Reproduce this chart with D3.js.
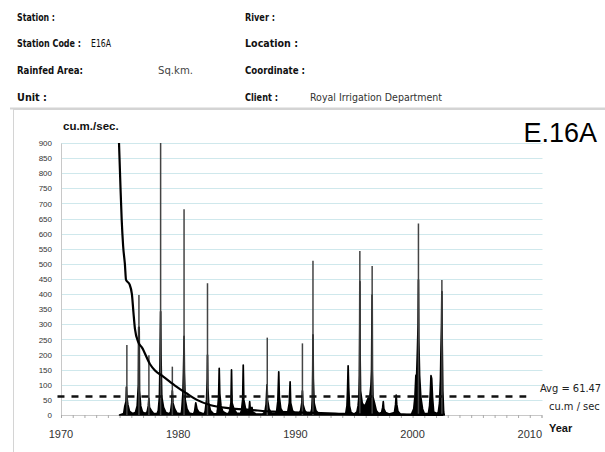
<!DOCTYPE html>
<html><head><meta charset="utf-8">
<script src="https://cdn.jsdelivr.net/npm/d3@7"></script>
<style>html,body{margin:0;padding:0;background:#fff;} svg{display:block;}</style>
</head><body><svg id="c" width="605" height="452"></svg>
<script>
// ---- header texts ----
const headerLeftLabels = ["Station :", "Station Code :", "Rainfed Area:", "Unit :"];
const headerLeftValues = ["", "E16A", "Sq.km.", ""];
const headerRightLabels = ["River :", "Location :", "Coordinate :", "Client :"];
const headerRightValues = ["", "", "", "Royal Irrigation Department"];
const stationId = "E.16A";
const yUnit = "cu.m./sec.";
const xUnit = "Year";

// ---- axes ----
const yTicks = [0,50,100,150,200,250,300,350,400,450,500,550,600,650,700,750,800,850,900];
const xTicks = [1970,1980,1990,2000,2010];
const avgFlow = 61.47;

// ---- flow duration curve (year position, cu.m./sec.) ----
const durationCurve = [
 [1974.95,900],[1975.07,760],[1975.18,645],[1975.3,560],[1975.45,500],[1975.55,447],
 [1975.85,432],[1976.05,400],[1976.18,340],[1976.31,285],[1976.6,240],[1976.9,224],
 [1977.6,168],[1978.0,148],[1978.7,128],[1979.85,94],[1980.7,72],
 [1981.6,50],[1982.7,33],[1984.4,22],[1986.1,17],[1988.1,11],
 [1990.8,8],[1993.4,5],[1995.3,2],[1998.0,1],[2002.6,0.3]
];

// ---- peak spikes (thin grey) ----
const spikeYears = [1975.62,1976.65,1977.5,1978.5,1979.5,1980.5,1982.5,1987.6,1990.6,1991.5,1995.5,1996.55,2000.5,2002.5];
const spikePeaks = [232,397,198,900,160,681,436,256,237,510,543,493,634,447];

// ---- discharge hydrograph (black) ----
const flow = [
 [1975.00,0],[1975.35,5],[1975.45,30],[1975.55,45],[1975.58,92],[1975.62,60],[1975.7,35],[1975.85,12],[1976.1,5],
 [1976.35,8],[1976.5,30],[1976.6,100],[1976.63,290],[1976.67,290],[1976.7,80],[1976.8,30],[1976.95,10],[1977.2,5],
 [1977.35,10],[1977.45,30],[1977.5,55],[1977.55,25],[1977.7,15],[1977.9,5],[1978.2,5],
 [1978.3,15],[1978.4,60],[1978.45,176],[1978.48,280],[1978.5,342],[1978.53,200],[1978.6,60],[1978.75,25],[1978.95,8],[1979.25,4],
 [1979.35,10],[1979.45,40],[1979.5,80],[1979.55,40],[1979.7,20],[1979.9,6],[1980.25,4],
 [1980.3,15],[1980.4,70],[1980.45,140],[1980.48,200],[1980.5,260],[1980.53,140],[1980.6,50],[1980.75,20],[1980.95,6],[1981.3,3],
 [1981.4,12],[1981.5,40],[1981.6,20],[1981.75,10],[1982.2,3],
 [1982.3,12],[1982.42,50],[1982.48,120],[1982.5,198],[1982.53,90],[1982.6,40],[1982.75,15],[1983.0,5],[1983.3,4],
 [1983.35,15],[1983.45,60],[1983.5,154],[1983.55,70],[1983.65,30],[1983.8,12],[1984.1,5],[1984.3,5],
 [1984.4,15],[1984.5,40],[1984.55,149],[1984.6,40],[1984.75,20],[1985.0,6],[1985.3,5],
 [1985.4,15],[1985.5,50],[1985.55,165],[1985.6,50],[1985.75,20],[1985.95,8],
 [1986.05,20],[1986.1,44],[1986.15,20],[1986.3,25],[1986.35,10],[1986.6,4],[1987.2,3],
 [1987.4,10],[1987.5,35],[1987.58,100],[1987.62,50],[1987.75,20],[1987.95,6],[1988.3,4],
 [1988.4,12],[1988.5,45],[1988.58,143],[1988.63,60],[1988.75,22],[1988.95,8],[1989.3,4],
 [1989.35,10],[1989.48,40],[1989.55,110],[1989.6,40],[1989.75,15],[1990.0,5],[1990.3,4],
 [1990.45,15],[1990.55,40],[1990.6,80],[1990.65,35],[1990.8,15],[1991.0,5],[1991.3,5],
 [1991.4,20],[1991.45,60],[1991.48,150],[1991.5,265],[1991.53,120],[1991.6,40],[1991.75,15],[1992.0,4],[1992.3,2],
 [1993.0,1],[1994.0,1],
 [1994.3,5],[1994.4,30],[1994.45,80],[1994.5,163],[1994.55,90],[1994.62,30],[1994.75,8],[1995.0,3],
 [1995.25,10],[1995.35,30],[1995.42,60],[1995.46,132],[1995.49,300],[1995.5,441],[1995.52,200],[1995.56,80],[1995.7,40],[1995.85,30],
 [1996.0,35],[1996.2,55],[1996.35,60],[1996.45,100],[1996.5,149],[1996.53,300],[1996.55,397],[1996.57,150],[1996.62,60],[1996.75,40],[1996.9,15],[1997.1,5],
 [1997.35,8],[1997.45,25],[1997.5,44],[1997.55,20],[1997.7,8],[1998.0,3],
 [1998.45,8],[1998.55,35],[1998.6,66],[1998.65,35],[1998.75,12],[1998.95,3],[1999.5,1],[1999.9,2],
 [2000.1,20],[2000.2,60],[2000.28,130],[2000.35,135],[2000.42,222],[2000.47,300],[2000.5,447],[2000.53,250],[2000.6,130],[2000.7,60],[2000.85,20],[2001.0,5],[2001.35,5],
 [2001.45,30],[2001.52,80],[2001.57,130],[2001.63,120],[2001.7,60],[2001.8,10],[2002.1,5],
 [2002.2,10],[2002.3,40],[2002.38,120],[2002.43,230],[2002.47,300],[2002.5,408],[2002.53,230],[2002.58,80],[2002.65,10],[2002.7,0]
];

const svg = d3.select("#c");
svg.append("rect").attr("width",605).attr("height",452).attr("fill","#fff");

// header (label widths fitted to the reference)
const hFont = "'Liberation Sans Narrow','DejaVu Sans Condensed','Liberation Sans',Arial,sans-serif";
const rowY = [21, 47, 74, 101];
const leftW = [38, 64, 66, 30];
const rightW = [30, 53, 60, 33];
const hdr = svg.append("g").attr("font-family", hFont).attr("font-size", 10.5).attr("fill","#111");
headerLeftLabels.forEach((t,i)=>{
  hdr.append("text").attr("x",17).attr("y",rowY[i]).attr("font-weight","bold")
    .attr("textLength",leftW[i]).attr("lengthAdjust","spacingAndGlyphs").text(t);
});
hdr.append("text").attr("x",91).attr("y",rowY[1]).attr("textLength",20).attr("lengthAdjust","spacingAndGlyphs").text(headerLeftValues[1]);
hdr.append("text").attr("x",158).attr("y",rowY[2]).attr("fill","#444").attr("textLength",35).attr("lengthAdjust","spacingAndGlyphs").text(headerLeftValues[2]);
headerRightLabels.forEach((t,i)=>{
  hdr.append("text").attr("x",245).attr("y",rowY[i]).attr("font-weight","bold")
    .attr("textLength",rightW[i]).attr("lengthAdjust","spacingAndGlyphs").text(t);
});
hdr.append("text").attr("x",310).attr("y",rowY[3]).attr("fill","#333").attr("textLength",132).attr("lengthAdjust","spacingAndGlyphs").text(headerRightValues[3]);

// frame
svg.append("line").attr("x1",10).attr("x2",605).attr("y1",108.5).attr("y2",108.5).attr("stroke","#d4d4d4").attr("stroke-width",2);
svg.append("rect").attr("x",13.5).attr("y",109.5).attr("width",620).attr("height",360).attr("fill","none").attr("stroke","#d4d4d4");

// scales
const x = d3.scaleLinear().domain([1970, 2011]).range([61, 541.5]);
const y = d3.scaleLinear().domain([0, 900]).range([415, 143]);

// gridlines
svg.append("g").selectAll("line").data(yTicks.filter(v=>v>0)).join("line")
  .attr("x1", x(1970)).attr("x2", x(2011)+1)
  .attr("y1", d=>Math.round(y(d))+0.5).attr("y2", d=>Math.round(y(d))+0.5)
  .attr("stroke","#cfe8ec").attr("stroke-width",1);

// y axis
const yAx = svg.append("g").attr("transform",`translate(${x(1970)},0)`)
  .call(d3.axisLeft(y).tickValues(yTicks).tickSize(0).tickPadding(9));
yAx.select(".domain").attr("stroke","#c8c8c8");
yAx.selectAll("text").attr("font-family","'Liberation Sans',Arial,sans-serif").attr("font-size",8).attr("fill","#333");

// x axis
const xAx = svg.append("g").attr("transform",`translate(0,${y(0)})`)
  .call(d3.axisBottom(x).tickValues(d3.range(1970, 2012)).tickSize(3).tickFormat(""));
xAx.select(".domain").attr("stroke","#c8c8c8");
xAx.selectAll(".tick line").attr("stroke","#aaa");
svg.append("g").selectAll("text").data(xTicks).join("text")
  .attr("x", d=>x(d)).attr("y", 438).attr("text-anchor","middle")
  .attr("font-family","'Liberation Sans',Arial,sans-serif").attr("font-size",11).attr("fill","#333")
  .text(d=>d);

// clip
svg.append("clipPath").attr("id","pc").append("rect")
  .attr("x", x(1970)).attr("y", y(900)).attr("width", x(2011)-x(1970)).attr("height", y(0)-y(900)+1);
const plot = svg.append("g").attr("clip-path","url(#pc)");

// hydrograph area
plot.append("path").datum(flow)
  .attr("d", d3.area().x(d=>x(d[0])).y0(y(0)).y1(d=>y(d[1])))
  .attr("fill","#000").attr("stroke","#000").attr("stroke-width",1.7).attr("stroke-linejoin","round");

// spikes
plot.append("g").selectAll("line").data(spikeYears).join("line")
  .attr("x1", d=>x(d)).attr("x2", d=>x(d))
  .attr("y1", y(0)).attr("y2", (d,i)=>y(spikePeaks[i]))
  .attr("stroke","#444").attr("stroke-width",1.5);

// duration curve
plot.append("path").datum(durationCurve)
  .attr("d", d3.line().x(d=>x(d[0])).y(d=>y(d[1])).curve(d3.curveMonotoneX))
  .attr("fill","none").attr("stroke","#000").attr("stroke-width",2.2);

// avg line
svg.append("line").attr("x1", x(1969.7)).attr("x2", x(2009.7))
  .attr("y1", y(avgFlow)).attr("y2", y(avgFlow))
  .attr("stroke","#111").attr("stroke-width",2.5).attr("stroke-dasharray","7,7");

// labels
const lf = "'Liberation Sans',Arial,sans-serif";
svg.append("text").attr("x",63).attr("y",130).attr("font-family",lf).attr("font-weight","bold")
  .attr("font-size",11.5).attr("fill","#111").text(yUnit);
svg.append("text").attr("x",597).attr("y",142).attr("text-anchor","end").attr("font-family",lf)
  .attr("font-size",27).attr("fill","#000").text(stationId);
svg.append("text").attr("x",549).attr("y",432).attr("font-family",lf).attr("font-weight","bold")
  .attr("font-size",11).attr("fill","#111").text(xUnit);
svg.append("text").attr("x",540).attr("y",392).attr("font-family",hFont)
  .attr("font-size",11).attr("fill","#222").text("Avg = " + avgFlow);
svg.append("text").attr("x",549).attr("y",410).attr("font-family",hFont)
  .attr("font-size",11).attr("fill","#222").text("cu.m / sec");
</script></body></html>
